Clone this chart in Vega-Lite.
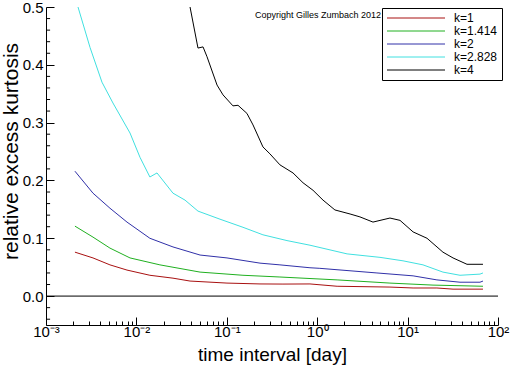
{
  "$schema": "https://vega.github.io/schema/vega-lite/v6.json",
  "width": 452,
  "height": 318,
  "autosize": "none",
  "padding": {"left": 46, "top": 7, "right": 14, "bottom": 41},
  "background": "white",
  "config": {
    "view": {"stroke": null},
    "font": "Liberation Sans",
    "axis": {"grid": false, "domainColor": "black", "tickColor": "black", "labelColor": "black", "titleColor": "black", "labelFont": "Liberation Sans", "titleFont": "Liberation Sans", "titleFontWeight": "normal", "domainWidth": 1, "tickWidth": 1}
  },
  "datasets": {
    "curves": [
      {"k": "k=1", "t": 0.00209, "v": 0.076},
      {"k": "k=1", "t": 0.00331, "v": 0.066},
      {"k": "k=1", "t": 0.0051, "v": 0.054},
      {"k": "k=1", "t": 0.00787, "v": 0.045},
      {"k": "k=1", "t": 0.0141, "v": 0.036},
      {"k": "k=1", "t": 0.0254, "v": 0.031},
      {"k": "k=1", "t": 0.0392, "v": 0.026},
      {"k": "k=1", "t": 0.1005, "v": 0.0225},
      {"k": "k=1", "t": 0.233, "v": 0.021},
      {"k": "k=1", "t": 0.418, "v": 0.0208},
      {"k": "k=1", "t": 0.832, "v": 0.021},
      {"k": "k=1", "t": 1.66, "v": 0.017},
      {"k": "k=1", "t": 6.38, "v": 0.0156},
      {"k": "k=1", "t": 11.5, "v": 0.014},
      {"k": "k=1", "t": 21.1, "v": 0.014},
      {"k": "k=1", "t": 31.8, "v": 0.012},
      {"k": "k=1", "t": 68.2, "v": 0.012},
      {"k": "k=1.414", "t": 0.00209, "v": 0.121},
      {"k": "k=1.414", "t": 0.00331, "v": 0.102},
      {"k": "k=1.414", "t": 0.0051, "v": 0.083},
      {"k": "k=1.414", "t": 0.0085, "v": 0.066},
      {"k": "k=1.414", "t": 0.0182, "v": 0.054},
      {"k": "k=1.414", "t": 0.0506, "v": 0.0415},
      {"k": "k=1.414", "t": 0.151, "v": 0.036},
      {"k": "k=1.414", "t": 0.387, "v": 0.033},
      {"k": "k=1.414", "t": 1.66, "v": 0.028},
      {"k": "k=1.414", "t": 6.38, "v": 0.0225},
      {"k": "k=1.414", "t": 19.1, "v": 0.019},
      {"k": "k=1.414", "t": 68.2, "v": 0.017},
      {"k": "k=2", "t": 0.00209, "v": 0.216},
      {"k": "k=2", "t": 0.00331, "v": 0.178},
      {"k": "k=2", "t": 0.0051, "v": 0.152},
      {"k": "k=2", "t": 0.00787, "v": 0.128},
      {"k": "k=2", "t": 0.0141, "v": 0.100},
      {"k": "k=2", "t": 0.0254, "v": 0.085},
      {"k": "k=2", "t": 0.0506, "v": 0.071},
      {"k": "k=2", "t": 0.1005, "v": 0.066},
      {"k": "k=2", "t": 0.233, "v": 0.057},
      {"k": "k=2", "t": 0.387, "v": 0.054},
      {"k": "k=2", "t": 0.832, "v": 0.049},
      {"k": "k=2", "t": 1.07, "v": 0.048},
      {"k": "k=2", "t": 4.58, "v": 0.040},
      {"k": "k=2", "t": 11.5, "v": 0.035},
      {"k": "k=2", "t": 21.1, "v": 0.028},
      {"k": "k=2", "t": 38.0, "v": 0.024},
      {"k": "k=2", "t": 63.2, "v": 0.024},
      {"k": "k=2", "t": 68.2, "v": 0.026},
      {"k": "k=2.828", "t": 0.00226, "v": 0.500},
      {"k": "k=2.828", "t": 0.00307, "v": 0.430},
      {"k": "k=2.828", "t": 0.00416, "v": 0.370},
      {"k": "k=2.828", "t": 0.0055, "v": 0.334},
      {"k": "k=2.828", "t": 0.0085, "v": 0.282},
      {"k": "k=2.828", "t": 0.01096, "v": 0.240},
      {"k": "k=2.828", "t": 0.0141, "v": 0.206},
      {"k": "k=2.828", "t": 0.0169, "v": 0.213},
      {"k": "k=2.828", "t": 0.0254, "v": 0.178},
      {"k": "k=2.828", "t": 0.0345, "v": 0.166},
      {"k": "k=2.828", "t": 0.048, "v": 0.147},
      {"k": "k=2.828", "t": 0.0841, "v": 0.133},
      {"k": "k=2.828", "t": 0.151, "v": 0.119},
      {"k": "k=2.828", "t": 0.251, "v": 0.106},
      {"k": "k=2.828", "t": 0.463, "v": 0.096},
      {"k": "k=2.828", "t": 0.832, "v": 0.088},
      {"k": "k=2.828", "t": 2.14, "v": 0.073},
      {"k": "k=2.828", "t": 4.95, "v": 0.067},
      {"k": "k=2.828", "t": 8.89, "v": 0.061},
      {"k": "k=2.828", "t": 14.8, "v": 0.054},
      {"k": "k=2.828", "t": 24.6, "v": 0.0415},
      {"k": "k=2.828", "t": 38.0, "v": 0.036},
      {"k": "k=2.828", "t": 63.2, "v": 0.038},
      {"k": "k=2.828", "t": 68.2, "v": 0.040},
      {"k": "k=4", "t": 0.0392, "v": 0.500},
      {"k": "k=4", "t": 0.048, "v": 0.429},
      {"k": "k=4", "t": 0.0546, "v": 0.431},
      {"k": "k=4", "t": 0.0604, "v": 0.414},
      {"k": "k=4", "t": 0.078, "v": 0.365},
      {"k": "k=4", "t": 0.0908, "v": 0.348},
      {"k": "k=4", "t": 0.117, "v": 0.329},
      {"k": "k=4", "t": 0.133, "v": 0.330},
      {"k": "k=4", "t": 0.167, "v": 0.316},
      {"k": "k=4", "t": 0.195, "v": 0.296},
      {"k": "k=4", "t": 0.251, "v": 0.258},
      {"k": "k=4", "t": 0.300, "v": 0.246},
      {"k": "k=4", "t": 0.387, "v": 0.227},
      {"k": "k=4", "t": 0.540, "v": 0.213},
      {"k": "k=4", "t": 0.697, "v": 0.196},
      {"k": "k=4", "t": 0.899, "v": 0.183},
      {"k": "k=4", "t": 1.16, "v": 0.166},
      {"k": "k=4", "t": 1.57, "v": 0.149},
      {"k": "k=4", "t": 2.31, "v": 0.142},
      {"k": "k=4", "t": 2.97, "v": 0.137},
      {"k": "k=4", "t": 4.14, "v": 0.128},
      {"k": "k=4", "t": 6.38, "v": 0.135},
      {"k": "k=4", "t": 8.24, "v": 0.131},
      {"k": "k=4", "t": 11.5, "v": 0.111},
      {"k": "k=4", "t": 16.4, "v": 0.100},
      {"k": "k=4", "t": 24.6, "v": 0.076},
      {"k": "k=4", "t": 31.8, "v": 0.066},
      {"k": "k=4", "t": 45.4, "v": 0.055},
      {"k": "k=4", "t": 68.2, "v": 0.055}
    ]
  },
  "layer": [
    {
      "data": {"name": "curves"},
      "mark": {"type": "line", "strokeWidth": 1, "clip": true},
      "encoding": {
        "x": {
          "field": "t", "type": "quantitative",
          "scale": {"type": "log", "domain": [0.001, 100], "nice": false},
          "axis": {
            "title": "time interval [day]",
            "titleFontSize": 19,
            "titlePadding": 2,
            "labelFontSize": 15,
            "labelPadding": 7,
            "labelOverlap": false,
            "labelBound": false,
            "labelFlush": false,
            "values": [0.001,0.002,0.003,0.004,0.005,0.006,0.007,0.008,0.009,0.01,0.02,0.03,0.04,0.05,0.06,0.07,0.08,0.09,0.1,0.2,0.3,0.4,0.5,0.6,0.7,0.8,0.9,1,2,3,4,5,6,7,8,9,10,20,30,40,50,60,70,80,90,100],
            "labelExpr": "(abs(log(datum.value)/LN10 - round(log(datum.value)/LN10)) < 0.001) ? ['10⁻³','10⁻²','10⁻¹','10⁰','10¹','10²'][round(log(datum.value)/LN10)+3] : ''",
            "tickSize": {"condition": {"test": "abs(log(datum.value)/LN10 - round(log(datum.value)/LN10)) < 0.001", "value": -8}, "value": -4}
          }
        },
        "y": {
          "field": "v", "type": "quantitative",
          "scale": {"domain": [-0.05, 0.5], "nice": false, "zero": false},
          "axis": {
            "title": "relative excess kurtosis",
            "titleFontSize": 21,
            "titlePadding": 1,
            "titleY": 144,
            "labelFontSize": 15,
            "labelPadding": 11,
            "labelOverlap": false,
            "labelBound": false,
            "labelFlush": false,
            "values": [0, 0.1, 0.2, 0.3, 0.4, 0.5],
            "format": ".1f",
            "tickSize": -8
          }
        },
        "color": {
          "field": "k", "type": "nominal",
          "scale": {"domain": ["k=1", "k=1.414", "k=2", "k=2.828", "k=4"], "range": ["#a81010", "#20b020", "#3030a8", "#40e0e0", "#000000"]},
          "legend": {
            "title": null,
            "orient": "none",
            "legendX": 336,
            "legendY": 1,
            "symbolType": "M-1,0L10.6,0",
            "symbolSize": 100,
            "symbolStrokeWidth": 1,
            "labelFontSize": 12,
            "labelFont": "Liberation Sans",
            "labelColor": "black",
            "labelOffset": 56,
            "rowPadding": 1,
            "padding": 4,
            "strokeColor": "black",
            "fillColor": "white"
          }
        }
      }
    },
    {
      "data": {"values": [{"m": -0.04}, {"m": -0.02}, {"m": 0.02}, {"m": 0.04}, {"m": 0.06}, {"m": 0.08}, {"m": 0.12}, {"m": 0.14}, {"m": 0.16}, {"m": 0.18}, {"m": 0.22}, {"m": 0.24}, {"m": 0.26}, {"m": 0.28}, {"m": 0.32}, {"m": 0.34}, {"m": 0.36}, {"m": 0.38}, {"m": 0.42}, {"m": 0.44}, {"m": 0.46}, {"m": 0.48}]},
      "mark": {"type": "rule", "color": "black", "strokeWidth": 1},
      "encoding": {
        "y": {"field": "m", "type": "quantitative"},
        "x": {"datum": 0.001},
        "x2": {"datum": 0.00111}
      }
    },
    {
      "data": {"values": [{"y0": 0}]},
      "mark": {"type": "rule", "color": "black", "strokeWidth": 1},
      "encoding": {"y": {"datum": 0}}
    },
    {
      "data": {"values": [{"label": "Copyright Gilles Zumbach 2012"}]},
      "mark": {"type": "text", "align": "left", "baseline": "middle", "fontSize": 9, "font": "Liberation Sans", "color": "black"},
      "encoding": {
        "x": {"datum": 0.205},
        "y": {"datum": 0.486},
        "text": {"field": "label"}
      }
    }
  ]
}
